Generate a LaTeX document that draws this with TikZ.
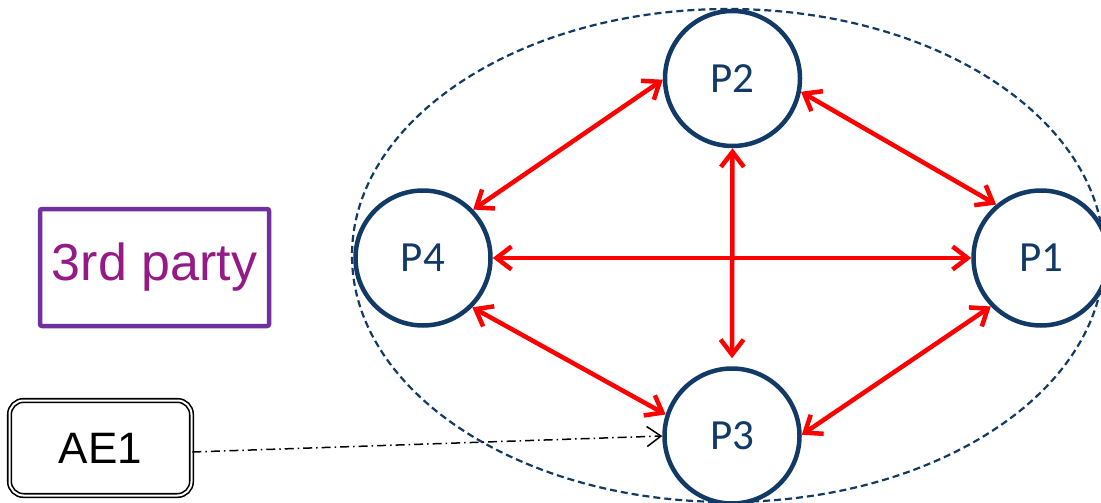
\documentclass[tikz,border=0pt]{standalone}
\usepackage{fontspec}
\setmainfont{Liberation Sans}
\newfontfamily\calibrifont{Carlito}
\usetikzlibrary{arrows.meta}
\definecolor{navy}{HTML}{123A66}
\definecolor{redarrow}{HTML}{FF0000}
\definecolor{boxpurple}{HTML}{7030A0}
\definecolor{textpurple}{HTML}{951A85}
\begin{document}
\begin{tikzpicture}[x=1pt,y=-1pt,
  peer/.style={circle, draw=navy, line width=4.5pt, fill=white, minimum size=135pt, inner sep=0pt, text=navy, font=\calibrifont\fontsize{43}{50}\selectfont},
  link/.style={draw=redarrow, line width=4.5pt, {Straight Barb[length=15pt,width=23pt]}-{Straight Barb[length=15pt,width=23pt]}},
  partybox/.style={rectangle, draw=boxpurple, line width=4.5pt, rounded corners=2pt, minimum width=229pt, minimum height=117pt, inner sep=0pt, text=textpurple, font=\fontsize{52}{60}\selectfont},
  aebox/.style={rectangle, draw=black, double, double distance=2pt, line width=1.6pt, rounded corners=14pt, minimum width=182pt, minimum height=95pt, inner sep=0pt, font=\fontsize{44}{52}\selectfont},
  attack/.style={draw=black, line width=1.5pt, dash pattern=on 9pt off 4pt on 1.5pt off 4pt, -{Straight Barb[length=14pt,width=20pt]}}
]
\useasboundingbox (0,0) rectangle (1101,503);
\draw[navy, line width=2.2pt, dash pattern=on 7pt off 4pt] (728,255.5) ellipse [x radius=376pt, y radius=246.5pt];
\node[peer] (P2) at (732.5,78.5) {P2};
\node[peer] (P4) at (423,258) {P4};
\node[peer] (P1) at (1041,258) {P1};
\node[peer] (P3) at (732,436) {P3};
\node[partybox] (TP) at (154.5,267.5) {3rd party};
\node[aebox] (AE1) at (100.5,448) {AE1};
\draw[link] (P2.181) -- (P4.44);
\draw[link] (P2.-11) -- (P1.130);
\draw[link] (P4.east) -- (P1.west);
\draw[link, shorten >=8pt] (P2.south) -- (P3.north);
\draw[link] (P4.-45) -- (P3.162);
\draw[link] (P1.224) -- (P3.1);
\draw[attack] ([yshift=-4pt]AE1.east) -- (P3.west);
\end{tikzpicture}
\end{document}
